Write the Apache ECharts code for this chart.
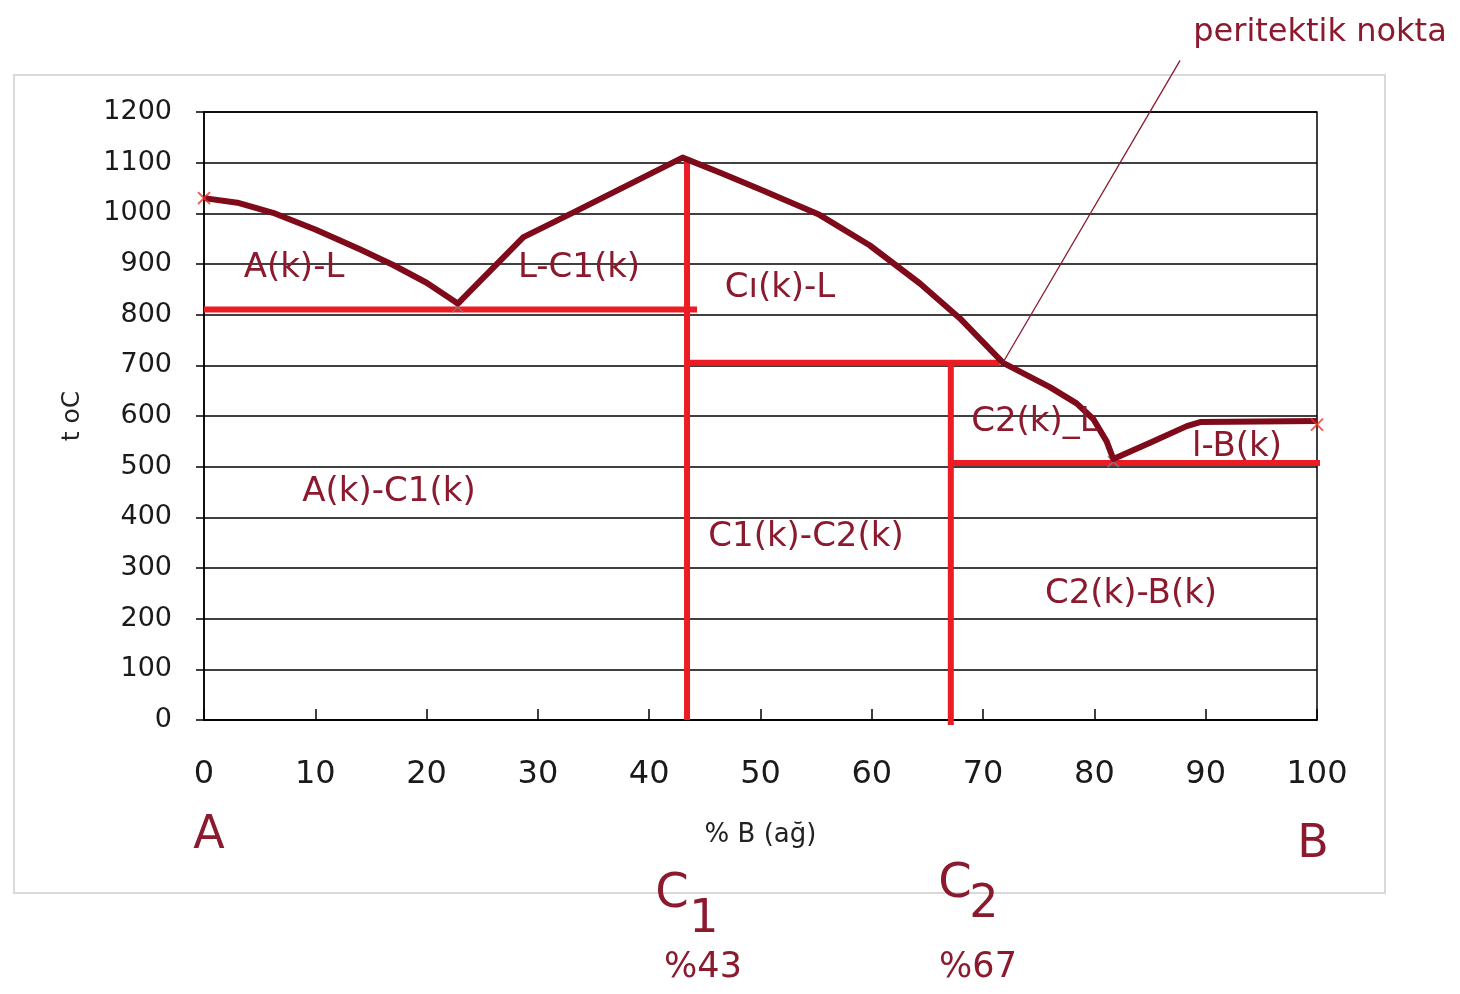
<!DOCTYPE html>
<html>
<head>
<meta charset="utf-8">
<script src="https://cdn.jsdelivr.net/npm/echarts@6/dist/echarts.min.js"></script>
<style>
html,body{margin:0;padding:0;background:#fff;}
#c{width:1460px;height:994px;}
</style>
</head>
<body>
<div id="c"></div>
<script>
// ---- data ----
var xTicks = [0,10,20,30,40,50,60,70,80,90,100];
var yTicks = [0,100,200,300,400,500,600,700,800,900,1000,1100,1200];
var liquidus = [[0,1030],[3,1021],[6.2,1001],[10,968],[14,929],[17,898],[20,863],[22.8,822],
  [28.7,953],[33.2,1002],[43,1110],[46.5,1079],[50,1047],[55.3,997],[59.8,937],[64.3,862],[67.9,793],[71.8,705],
  [76,657],[78.4,625],[79.9,594],[81.1,550],[81.7,515],[85,547],[88.3,580],[89.5,588],[100,590]];
var eutecticLine1 = [[0,810],[44.3,810]];
var c1Line = [[43.4,1110],[43.4,0]];
var peritecticLine = [[43.4,705],[71.5,705]];
var c2Line = [[67.1,705],[67.1,-10]];
var eutecticLine2 = [[67.1,507],[100.5,507]];
var endMarks = [[0,1030],[100,583]];
var eutecticMarks = [[22.8,815],[81.7,510]];
var pointerLine = [[87.7,1302],[71.8,706]];

var regionLabels = [
  {t:'A(k)-L', x:294, y:268},
  {t:'L-C1(k)', x:579, y:268},
  {t:'Cı(k)-L', x:780, y:288},
  {t:'C2(k)_L', x:1035, y:422},
  {t:'l-B(k)', x:1237, y:447},
  {t:'A(k)-C1(k)', x:389, y:492},
  {t:'C1(k)-C2(k)', x:806, y:537},
  {t:'C2(k)-B(k)', x:1131, y:594}
];

var FONT = 'DejaVu Sans';
var LBL = '#8b1a2e';
var CURVE = '#7e0a1a';
var RED = '#ec1c24';
var xSym = 'path://M0,0L10,10M10,0L0,10';

var chart = echarts.init(document.getElementById('c'));

var graphics = [
  {type:'rect', shape:{x:14,y:75,width:1371,height:818}, style:{fill:null, stroke:'#d9d9d9', lineWidth:2}, z:-10}
];
regionLabels.forEach(function(l){
  graphics.push({type:'text', x:l.x, y:l.y, style:{text:l.t, fill:LBL, font:'34px "'+FONT+'"', textAlign:'center', textVerticalAlign:'middle'}, z:20});
});
function txt(t,x,y,size){
  graphics.push({type:'text', x:x, y:y, style:{text:t, fill:LBL, font:size+'px "'+FONT+'"', textAlign:'center', textVerticalAlign:'middle'}, z:20});
}
txt('A',209,836,46);
txt('B',1313,845,46);
txt('C',672,895,48);
txt('1',704,920,46);
txt('%43',703,968,35);
txt('C',955,885,48);
txt('2',984,905,46);
txt('%67',978,968,35);
txt('peritektik nokta',1320,33,32);

function lineSeries(data,color,width,z){
  return {type:'line', data:data, symbol:'none', smooth:false, lineStyle:{color:color,width:width, join:'round'}, z:z, clip:false, silent:true, animation:false};
}

chart.setOption({
  animation:false,
  textStyle:{fontFamily:FONT},
  grid:{left:204, right:143, top:112, bottom:274, show:true, borderColor:'#000', borderWidth:1.5},
  xAxis:{
    type:'value', min:0, max:100, interval:10,
    name:'% B (ağ)', nameLocation:'middle', nameGap:102,
    nameTextStyle:{color:'#222', fontSize:26, fontFamily:FONT},
    axisLine:{show:true, lineStyle:{color:'#000', width:1.5}},
    axisTick:{show:true, inside:true, length:11, lineStyle:{color:'#000', width:1.5}},
    axisLabel:{margin:39, color:'#1a1a1a', fontSize:32, fontFamily:FONT, formatter:function(v){return xTicks.indexOf(v)>=0?String(v):'';}},
    splitLine:{show:false}
  },
  yAxis:{
    type:'value', min:0, max:1200, interval:100,
    name:'t oC', nameLocation:'middle', nameGap:119, nameRotate:90,
    nameTextStyle:{color:'#222', fontSize:25, fontFamily:FONT},
    axisLine:{show:true, lineStyle:{color:'#000', width:1.5}},
    axisTick:{show:true, inside:false, length:8, lineStyle:{color:'#000', width:1.5}},
    axisLabel:{margin:32, color:'#1a1a1a', fontSize:27, fontFamily:FONT, formatter:function(v){return yTicks.indexOf(v)>=0?String(v):'';}},
    splitLine:{show:true, lineStyle:{color:'#000', width:1.5}}
  },
  graphic:graphics,
  series:[
    lineSeries(eutecticLine1,RED,6,3),
    lineSeries(c1Line,RED,6,3),
    lineSeries(peritecticLine,RED,6,3),
    lineSeries(c2Line,RED,6,3),
    lineSeries(eutecticLine2,RED,6,3),
    lineSeries(liquidus,CURVE,6,5),
    lineSeries(pointerLine,'#8b1a2e',1.3,6),
    {type:'scatter', data:endMarks, symbol:xSym, symbolSize:12, itemStyle:{color:'none', borderColor:'#f0302a', borderWidth:2}, z:7, silent:true, clip:false},
    {type:'scatter', data:eutecticMarks, symbol:xSym, symbolSize:11, itemStyle:{color:'none', borderColor:'#8a7890', borderWidth:1.5}, z:4, silent:true, clip:false}
  ]
});
</script>
</body>
</html>
